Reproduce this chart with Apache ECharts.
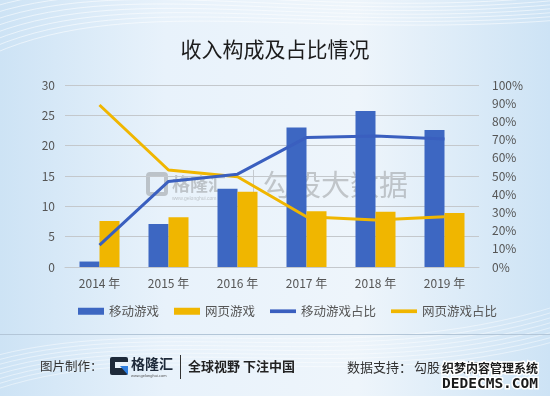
<!DOCTYPE html>
<html><head><meta charset="utf-8">
<script src="https://cdn.jsdelivr.net/npm/echarts@6/dist/echarts.min.js"></script>
<style>html,body{margin:0;padding:0;}#c{width:550px;height:396px;}</style>
</head><body><div id="c"></div>
<script>
const categories = ['2014 年','2015 年','2016 年','2017 年','2018 年','2019 年'];
const mobileRevenue = [0.9, 7.1, 12.9, 23.0, 25.7, 22.6];
const webRevenue = [7.6, 8.2, 12.4, 9.2, 9.1, 8.9];
const mobileShare = [12, 47, 51, 71.2, 72, 70.3];
const webShare = [89, 53.3, 49.6, 27.6, 25.8, 27.6];
const leftTicks = {min: 0, max: 30, interval: 5};
const rightTicks = {min: 0, max: 100, interval: 10};

const BLUE = '#3D67C2', YELLOW = '#F0B600';
const FONT = '"Noto Sans CJK SC", "Noto Sans", sans-serif';
const chart = echarts.init(document.getElementById('c'));

const waves = [];
for (let i = 0; i < 8; i++) {
  waves.push({type:'bezierCurve', z:-50, silent:true,
    shape:{x1:-20, y1:60 - i*7, cpx1:120, cpy1:-10 - i*4, cpx2:300, cpy2:40 - i*3, x2:560, y2:20 - i*4},
    style:{stroke:'rgba(255,255,255,0.55)', lineWidth:1, fill:null}});
  waves.push({type:'bezierCurve', z:-50, silent:true,
    shape:{x1:-20, y1:395 - i*5, cpx1:150, cpy1:330 - i*3, cpx2:350, cpy2:400 - i*4, x2:560, y2:340 - i*5},
    style:{stroke:'rgba(255,255,255,0.45)', lineWidth:1, fill:null}});
}

chart.setOption({
  animation: false,
  textStyle: {fontFamily: FONT},
  title: {text: '收入构成及占比情况', left: 'center', top: 34,
    textStyle: {fontSize: 21, fontWeight: 'normal', color: '#1c1c1c', fontFamily: FONT}},
  grid: {left: 65, right: 71, top: 85, bottom: 129},
  legend: {top: 300, left: 73, itemGap: 15, itemWidth: 26, itemHeight: 7,
    textStyle: {fontSize: 12.5, color: '#555', fontFamily: FONT},
    data: [
      {name:'移动游戏', icon:'rect'},
      {name:'网页游戏', icon:'rect'},
      {name:'移动游戏占比', icon:'path://M0,0H28V4H0Z'},
      {name:'网页游戏占比', icon:'path://M0,0H28V4H0Z'}
    ]},
  xAxis: {type: 'category', data: categories,
    axisLine: {lineStyle: {color: '#c4c8cc'}}, axisTick: {show: false},
    axisLabel: {color: '#555', fontSize: 12, margin: 10}},
  yAxis: [
    {type: 'value', min: leftTicks.min, max: leftTicks.max, interval: leftTicks.interval,
      axisLabel: {color: '#555', fontSize: 12, margin: 10},
      splitLine: {lineStyle: {color: '#c4c8cc', width: 1}}},
    {type: 'value', min: rightTicks.min, max: rightTicks.max, interval: rightTicks.interval,
      axisLabel: {color: '#555', fontSize: 12, margin: 13, formatter: '{value}%'},
      splitLine: {show: false}}
  ],
  series: [
    {name:'移动游戏', type:'bar', data: mobileRevenue, barWidth: 20, barGap: '0%', itemStyle:{color: BLUE}},
    {name:'网页游戏', type:'bar', data: webRevenue, barWidth: 20, itemStyle:{color: YELLOW}},
    {name:'移动游戏占比', type:'line', yAxisIndex: 1, data: mobileShare, showSymbol:false, symbol:'none',
      lineStyle:{color: '#3A5FBF', width: 3}, itemStyle:{color:'#3A5FBF'}, z: 5},
    {name:'网页游戏占比', type:'line', yAxisIndex: 1, data: webShare, showSymbol:false, symbol:'none',
      lineStyle:{color: YELLOW, width: 3}, itemStyle:{color: YELLOW}, z: 4}
  ],
  graphic: [
    {type:'rect', z:-100, silent:true, shape:{x:0,y:0,width:550,height:396},
      style:{fill: new echarts.graphic.LinearGradient(0,0,1,0,[
        {offset:0, color:'#cde3f5'},{offset:0.3, color:'#e8f2fb'},
        {offset:0.65, color:'#eef5fb'},{offset:1, color:'#cde3f5'}])}},
    ...waves,
    // watermark
    {type:'rect', z:-20, silent:true, shape:{x:148,y:174,width:18,height:20,r:2},
      style:{fill:null, stroke:'rgba(110,110,110,0.35)', lineWidth:4}},
    {type:'text', z:-20, silent:true, x:172, y:184,
      style:{text:'格隆汇', fontSize:18, fontWeight:'bold', fill:'rgba(110,110,110,0.35)', verticalAlign:'middle', fontFamily:FONT}},
    {type:'text', z:-20, silent:true, x:172, y:199,
      style:{text:'www.gelonghui.com', fontSize:5, fill:'rgba(110,110,110,0.35)', verticalAlign:'middle'}},
    {type:'rect', z:-20, silent:true, shape:{x:253,y:170,width:1,height:28}, style:{fill:'rgba(110,110,110,0.3)'}},
    {type:'text', z:-20, silent:true, x:263, y:185,
      style:{text:'勾股大数据', fontSize:29, fill:'rgba(110,110,110,0.35)', verticalAlign:'middle', fontFamily:FONT}},
    // separator
    {type:'rect', silent:true, shape:{x:0,y:334,width:550,height:1}, style:{fill:'#b3c6d8'}},
    // footer
    {type:'text', silent:true, x:40, y:366,
      style:{text:'图片制作：', fontSize:12.5, fill:'#333', verticalAlign:'middle', fontFamily:FONT}},
    {type:'rect', silent:true, shape:{x:110,y:357,width:18,height:18,r:2}, style:{fill:'#1e2a3a'}},
    {type:'rect', silent:true, shape:{x:115,y:362,width:13,height:6}, style:{fill:'#e9f2fa'}},
    {type:'polygon', silent:true, shape:{points:[[120,366],[128,366],[128,375]]}, style:{fill:'#2f7fe0'}},
    {type:'text', silent:true, x:131, y:364,
      style:{text:'格隆汇', fontSize:14, fontWeight:'bold', fill:'#1e2a3a', verticalAlign:'middle', fontFamily:FONT}},
    {type:'text', silent:true, x:131, y:376,
      style:{text:'www.gelonghui.com', fontSize:4, fill:'#555', verticalAlign:'middle'}},
    {type:'rect', silent:true, shape:{x:180,y:355,width:1,height:24}, style:{fill:'#333'}},
    {type:'text', silent:true, x:188, y:366,
      style:{text:'全球视野 下注中国', fontSize:13, fontWeight:'bold', fill:'#222', verticalAlign:'middle', fontFamily:FONT}},
    {type:'text', silent:true, x:347, y:367,
      style:{text:'数据支持：', fontSize:13, fill:'#333', verticalAlign:'middle', fontFamily:FONT}},
    {type:'text', silent:true, x:414, y:367,
      style:{text:'勾股大数据', fontSize:13, fill:'#333', verticalAlign:'middle', fontFamily:FONT}},
    {type:'text', silent:true, x:442, y:368,
      style:{text:'织梦内容管理系统', fontSize:12, fontWeight:'bold', fill:'#1a1a1a', stroke:'#ffffff', lineWidth:3, verticalAlign:'middle', fontFamily:FONT}},
    {type:'text', silent:true, x:442, y:384,
      style:{text:'DEDECMS.COM', fontSize:14.5, fontWeight:'bold', fill:'#1a1a1a', stroke:'#ffffff', lineWidth:3, verticalAlign:'middle', fontFamily:'"DejaVu Sans Mono", monospace'}}
  ]
});
</script></body></html>
